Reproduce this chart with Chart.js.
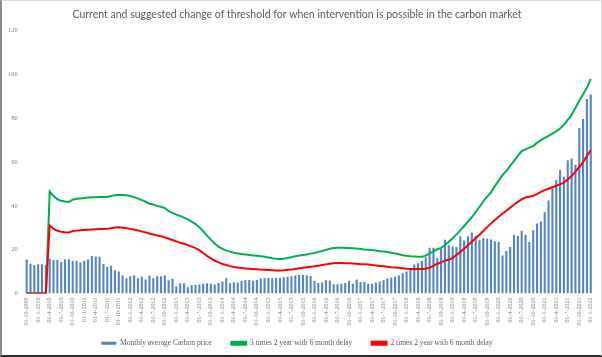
<!DOCTYPE html>
<html>
<head>
<meta charset="utf-8">
<script src="https://cdn.jsdelivr.net/npm/chart.js@4/dist/chart.umd.min.js"></script>
<style>
  html, body { margin: 0; padding: 0; background: #fff; }
  #wrap { position: relative; width: 602px; height: 357px; }
  #frame { position: absolute; left: 0; top: 0; width: 602px; height: 357px; box-sizing: border-box;
           border-left: 2px solid #8a8a8a; border-top: 1px solid #d9d9d9; border-right: 1px solid #d9d9d9;
           border-bottom: 2px solid #2b2b2b; pointer-events: none; }
</style>
</head>
<body>
<div id="wrap">
  <canvas id="c" width="602" height="357"></canvas>
  <div id="frame"></div>
</div>
<script>
const chartTitle = 'Current and suggested change of threshold for when intervention is possible in the carbon market';

const months = [
  '01-10-2009','01-11-2009','01-12-2009',
  '01-1-2010','01-2-2010','01-3-2010','01-4-2010','01-5-2010','01-6-2010','01-7-2010','01-8-2010','01-9-2010','01-10-2010','01-11-2010','01-12-2010',
  '01-1-2011','01-2-2011','01-3-2011','01-4-2011','01-5-2011','01-6-2011','01-7-2011','01-8-2011','01-9-2011','01-10-2011','01-11-2011','01-12-2011',
  '01-1-2012','01-2-2012','01-3-2012','01-4-2012','01-5-2012','01-6-2012','01-7-2012','01-8-2012','01-9-2012','01-10-2012','01-11-2012','01-12-2012',
  '01-1-2013','01-2-2013','01-3-2013','01-4-2013','01-5-2013','01-6-2013','01-7-2013','01-8-2013','01-9-2013','01-10-2013','01-11-2013','01-12-2013',
  '01-1-2014','01-2-2014','01-3-2014','01-4-2014','01-5-2014','01-6-2014','01-7-2014','01-8-2014','01-9-2014','01-10-2014','01-11-2014','01-12-2014',
  '01-1-2015','01-2-2015','01-3-2015','01-4-2015','01-5-2015','01-6-2015','01-7-2015','01-8-2015','01-9-2015','01-10-2015','01-11-2015','01-12-2015',
  '01-1-2016','01-2-2016','01-3-2016','01-4-2016','01-5-2016','01-6-2016','01-7-2016','01-8-2016','01-9-2016','01-10-2016','01-11-2016','01-12-2016',
  '01-1-2017','01-2-2017','01-3-2017','01-4-2017','01-5-2017','01-6-2017','01-7-2017','01-8-2017','01-9-2017','01-10-2017','01-11-2017','01-12-2017',
  '01-1-2018','01-2-2018','01-3-2018','01-4-2018','01-5-2018','01-6-2018','01-7-2018','01-8-2018','01-9-2018','01-10-2018','01-11-2018','01-12-2018',
  '01-1-2019','01-2-2019','01-3-2019','01-4-2019','01-5-2019','01-6-2019','01-7-2019','01-8-2019','01-9-2019','01-10-2019','01-11-2019','01-12-2019',
  '01-1-2020','01-2-2020','01-3-2020','01-4-2020','01-5-2020','01-6-2020','01-7-2020','01-8-2020','01-9-2020','01-10-2020','01-11-2020','01-12-2020',
  '01-1-2021','01-2-2021','01-3-2021','01-4-2021','01-5-2021','01-6-2021','01-7-2021','01-8-2021','01-9-2021','01-10-2021','01-11-2021','01-12-2021',
  '01-1-2022'
];

const carbonPrice = [
  15.5, 13.6, 13.0, 13.3, 13.3, 13.0,
  15.9, 15.3, 15.3, 14.4, 15.5, 15.6,
  14.8, 15.0, 14.2, 15.0, 15.5, 17.1,
  16.9, 16.8, 13.5, 12.1, 12.7, 10.6,
  10.1, 8.2, 7.0, 7.9, 8.3, 7.0,
  7.6, 6.4, 8.2, 7.0, 7.9, 7.9,
  8.2, 6.1, 6.7, 3.3, 4.7, 4.7,
  2.9, 3.8, 3.9, 4.1, 4.4, 4.7,
  4.5, 4.1, 4.8, 5.5, 7.0, 4.7,
  5.1, 5.0, 5.8, 6.2, 6.2, 5.8,
  6.2, 6.8, 7.1, 7.1, 7.0, 7.1,
  7.1, 7.4, 7.7, 7.9, 8.2, 8.5,
  8.4, 8.3, 8.0, 5.8, 4.8, 5.0,
  6.1, 5.9, 4.2, 4.2, 4.4, 4.8,
  5.8, 4.4, 6.4, 5.3, 5.2, 4.4,
  4.4, 5.0, 5.5, 6.0, 6.8, 7.2,
  7.6, 8.2, 9.2, 10.0, 11.5, 13.2,
  13.8, 14.8, 16.5, 20.9, 20.9, 16.1,
  20.6, 24.5, 22.0, 21.4, 21.2, 26.1,
  24.2, 26.1, 27.9, 26.2, 24.5, 25.3,
  25.0, 24.7, 23.8, 23.5, 17.4, 19.4,
  21.2, 26.8, 26.2, 28.6, 26.8, 23.5,
  28.9, 32.0, 32.9, 37.1, 42.4, 48.3,
  51.7, 56.4, 53.3, 60.8, 61.6, 58.8,
  75.5, 79.7, 88.8, 90.8
];

const threeTimes = [
  0, 0, 0, 0, 0, 0,
  46.5, 44.5, 43.0, 42.3, 42.0, 41.8,
  42.8, 43.2, 43.4, 43.6, 43.8, 43.9,
  43.9, 44.0, 44.0, 44.1, 44.5, 44.9,
  45.1, 45.0, 44.8, 44.5, 44.0, 43.3,
  42.6, 41.9, 41.0, 40.6, 40.0, 39.6,
  39.0, 37.6, 36.8, 36.0, 35.4, 34.6,
  33.8, 32.8, 31.7, 30.2, 28.4, 26.4,
  24.6, 22.8, 21.4, 20.4, 19.7, 19.1,
  18.6, 18.3, 18.0, 17.8, 17.6, 17.4,
  17.2, 17.0, 16.8, 16.4, 16.1, 15.9,
  15.8, 15.9, 16.2, 16.6, 17.0, 17.3,
  17.6, 17.8, 18.2, 18.5, 19.0, 19.4,
  19.9, 20.4, 20.8, 20.9, 20.9, 20.8,
  20.8, 20.7, 20.5, 20.3, 20.1, 20.0,
  19.8, 19.6, 19.3, 19.2, 18.9, 18.6,
  18.3, 17.9, 17.5, 17.2, 17.0, 16.9,
  16.8, 16.8, 17.3, 18.3, 19.2, 20.2,
  20.8, 22.0, 23.6, 25.2, 27.0, 28.8,
  30.8, 32.8, 34.8, 37.2, 39.6, 42.0,
  44.2, 46.2, 49.0, 51.5, 54.0, 56.0,
  58.2, 60.5, 62.8, 65.0, 65.8, 66.6,
  67.3, 68.8, 70.0, 71.0, 72.0, 73.0,
  74.0, 75.3, 77.0, 79.2, 81.5, 84.8,
  88.0, 91.0, 94.0, 98.0
];

const twoTimes = [
  0, 0, 0, 0, 0, 0,
  31.1, 29.5, 28.6, 28.2, 28.0, 27.9,
  28.5, 28.7, 28.9, 29.0, 29.1, 29.2,
  29.3, 29.4, 29.4, 29.5, 29.8, 30.1,
  30.2, 30.0, 29.8, 29.5, 29.2, 28.8,
  28.3, 27.9, 27.4, 26.9, 26.5, 26.1,
  25.6, 25.0, 24.4, 23.8, 23.2, 22.7,
  22.1, 21.4, 20.7, 19.8, 18.5, 17.2,
  16.0, 15.0, 14.2, 13.5, 13.0, 12.5,
  12.1, 11.9, 11.6, 11.4, 11.3, 11.2,
  11.1, 10.9, 10.8, 10.7, 10.6, 10.5,
  10.5, 10.6, 10.8, 10.9, 11.2, 11.5,
  11.8, 12.0, 12.2, 12.4, 12.7, 13.0,
  13.3, 13.6, 13.8, 13.9, 13.9, 13.8,
  13.8, 13.7, 13.6, 13.4, 13.3, 13.2,
  13.0, 12.8, 12.6, 12.4, 12.2, 12.0,
  11.9, 11.7, 11.5, 11.3, 11.2, 11.2,
  11.2, 11.2, 11.3, 11.8, 12.6, 13.6,
  14.2, 15.0, 15.4, 16.3, 17.6, 19.0,
  20.4, 22.0, 23.6, 25.2, 26.8, 28.5,
  30.3, 32.0, 33.5, 35.0, 36.4, 37.8,
  39.2, 40.5, 41.8, 43.0, 43.8, 44.2,
  44.6, 45.4, 46.4, 47.2, 47.8, 48.5,
  49.2, 49.8, 50.6, 52.0, 53.6, 55.6,
  57.8, 60.0, 62.8, 65.5
];

const yTicks = [0, 20, 40, 60, 80, 100, 120];

const seriesNames = ['Monthly average Carbon price', '3 times 2 year with 6 month delay', '2 times 2 year with 6 month delay'];

const serif = '"Liberation Serif", "DejaVu Serif", serif';

new Chart(document.getElementById('c'), {
  data: {
    labels: months,
    datasets: [
      { type: 'bar', label: seriesNames[0], data: carbonPrice, backgroundColor: '#5585c8',
        borderWidth: 0, barPercentage: 0.55, categoryPercentage: 1.0, order: 2 },
      { type: 'line', label: seriesNames[1], data: threeTimes, borderColor: '#00b050', backgroundColor: '#00b050',
        borderWidth: 2, pointRadius: 0, tension: 0, order: 1 },
      { type: 'line', label: seriesNames[2], data: twoTimes, borderColor: '#ff0000', backgroundColor: '#ff0000',
        borderWidth: 2, pointRadius: 0, tension: 0, order: 0 }
    ]
  },
  options: {
    responsive: false,
    animation: false,
    layout: { padding: { left: 1, right: 9, top: 2, bottom: 0 } },
    plugins: {
      title: { display: true, text: chartTitle, color: '#595959',
        font: { family: 'Lato, "Open Sans", sans-serif', size: 10.5, weight: 'normal' }, padding: { top: 6, bottom: 10 } },
      legend: { position: 'bottom',
        labels: { boxWidth: 15, boxHeight: 3, padding: 10, color: '#595959',
          font: { family: serif, size: 7.5 },
          generateLabels: function(chart) {
            const items = Chart.defaults.plugins.legend.labels.generateLabels(chart);
            items.forEach(it => { if (it.datasetIndex < 2) it.text = it.text + '\u00a0\u00a0\u00a0\u00a0\u00a0'; });
            return items;
          },
          sort: (a, b) => a.datasetIndex - b.datasetIndex } },
      tooltip: { enabled: false }
    },
    scales: {
      x: { offset: true, grid: { display: false, drawTicks: false, tickLength: 0 }, border: { display: false },
        ticks: { autoSkip: false, maxRotation: 90, minRotation: 90, color: '#7f7f7f', font: { family: serif, size: 6 }, padding: 4,
          callback: function(v, i) { return i % 3 === 0 ? months[i] : ''; } } },
      y: { min: 0, max: 120, grid: { display: false, drawTicks: false, tickLength: 0 }, border: { display: false },
        afterBuildTicks: (axis) => { axis.ticks = yTicks.map(v => ({ value: v })); },
        ticks: { color: '#7f7f7f', font: { family: serif, size: 6.5 }, padding: 7 } }
    }
  }
});
</script>
</body>
</html>
